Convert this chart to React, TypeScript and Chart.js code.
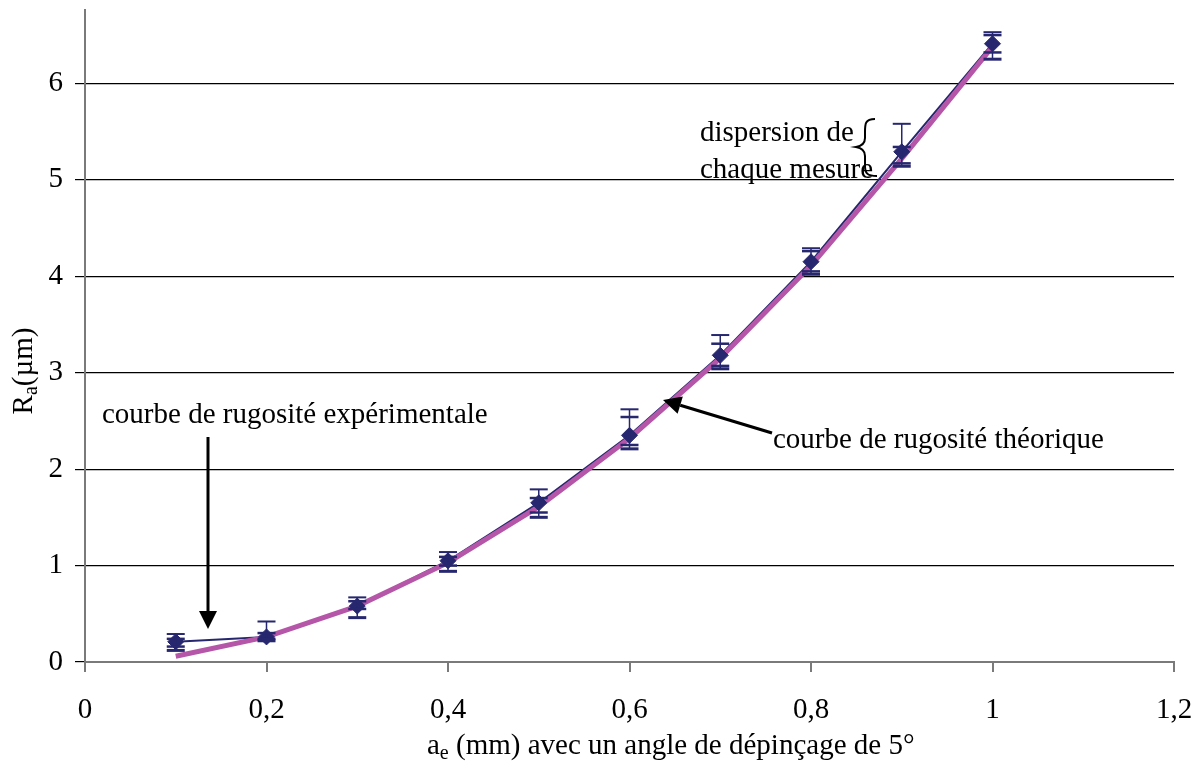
import React, { useEffect, useRef } from "react";
import { Chart, registerables } from "chart.js";

Chart.register(...registerables);

const xValues = [0.1, 0.2, 0.3, 0.4, 0.5, 0.6, 0.7, 0.8, 0.9, 1.0];
const experimental = [0.21, 0.26, 0.58, 1.05, 1.65, 2.35, 3.18, 4.15, 5.29, 6.41];
const theoretical = [0.06, 0.26, 0.58, 1.03, 1.61, 2.32, 3.15, 4.11, 5.22, 6.38];
const errHigh = [0.29, 0.42, 0.67, 1.14, 1.79, 2.62, 3.39, 4.29, 5.58, 6.53];
const errLow = [0.12, 0.22, 0.46, 0.94, 1.5, 2.21, 3.04, 4.02, 5.14, 6.25];
const innerHigh = [0.24, 0.3, 0.63, 1.09, 1.7, 2.54, 3.3, 4.26, 5.34, 6.5];
const innerLow = [0.16, 0.24, 0.55, 1.0, 1.55, 2.25, 3.07, 4.05, 5.17, 6.32];
const xTicks = [0, 0.2, 0.4, 0.6, 0.8, 1.0, 1.2];
const yTicks = [0, 1, 2, 3, 4, 5, 6];

const NAVY = "#27276f";
const PINK = "#b556a8";
const FONT = "'Liberation Serif', 'DejaVu Serif', serif";
const FS = 29;
const FSUB = 20;

function arrow(ctx: CanvasRenderingContext2D, x1: number, y1: number, x2: number, y2: number) {
  const ang = Math.atan2(y2 - y1, x2 - x1);
  const hl = 18;
  const hw = 9;
  const bx = x2 - hl * Math.cos(ang);
  const by = y2 - hl * Math.sin(ang);
  ctx.save();
  ctx.strokeStyle = "#000";
  ctx.fillStyle = "#000";
  ctx.lineWidth = 3;
  ctx.beginPath();
  ctx.moveTo(x1, y1);
  ctx.lineTo(bx, by);
  ctx.stroke();
  ctx.beginPath();
  ctx.moveTo(x2, y2);
  ctx.lineTo(bx + hw * Math.sin(ang), by - hw * Math.cos(ang));
  ctx.lineTo(bx - hw * Math.sin(ang), by + hw * Math.cos(ang));
  ctx.closePath();
  ctx.fill();
  ctx.restore();
}

const errorBarPlugin = {
  id: "errorBars",
  afterDatasetsDraw(chart: any) {
    const ctx = chart.ctx as CanvasRenderingContext2D;
    const xs = chart.scales.x;
    const ys = chart.scales.y;
    ctx.save();
    ctx.strokeStyle = NAVY;
    xValues.forEach((xv, i) => {
      const px = xs.getPixelForValue(xv);
      const hi = ys.getPixelForValue(errHigh[i]);
      const lo = ys.getPixelForValue(errLow[i]);
      ctx.lineWidth = 1.5;
      ctx.beginPath();
      ctx.moveTo(px, hi);
      ctx.lineTo(px, lo);
      ctx.stroke();
      const caps = [
        [errHigh[i], 2],
        [errLow[i], 3],
        [innerHigh[i], 2.5],
        [innerLow[i], 2.5],
      ];
      caps.forEach(([v, w]) => {
        const py = ys.getPixelForValue(v);
        ctx.lineWidth = w;
        ctx.beginPath();
        ctx.moveTo(px - 9, py);
        ctx.lineTo(px + 9, py);
        ctx.stroke();
      });
    });
    ctx.restore();
  },
};

const annotationPlugin = {
  id: "annotations",
  afterDraw(chart: any) {
    const ctx = chart.ctx as CanvasRenderingContext2D;
    ctx.save();
    ctx.fillStyle = "#000";
    ctx.textBaseline = "middle";
    ctx.font = `${FS}px ${FONT}`;
    ctx.textAlign = "left";
    ctx.fillText("courbe de rugosité expérimentale", 102, 415);
    ctx.fillText("courbe de rugosité théorique", 773, 440);
    ctx.fillText("dispersion de", 700, 133);
    ctx.fillText("chaque mesure", 700, 170);

    // brace
    ctx.strokeStyle = "#000";
    ctx.lineWidth = 2;
    ctx.beginPath();
    ctx.moveTo(875, 119);
    ctx.bezierCurveTo(865, 119, 865, 124, 865, 132);
    ctx.lineTo(865, 138);
    ctx.bezierCurveTo(865, 143, 862, 146, 856, 147);
    ctx.bezierCurveTo(862, 148, 865, 151, 865, 156);
    ctx.lineTo(865, 166);
    ctx.bezierCurveTo(865, 173, 867, 176, 877, 176);
    ctx.stroke();

    arrow(ctx, 208, 437, 208, 629);
    arrow(ctx, 772, 433, 663, 400);

    // x title with subscript
    const rest = " (mm) avec un angle de dépinçage de 5°";
    ctx.font = `${FS}px ${FONT}`;
    const wA = ctx.measureText("a").width;
    ctx.font = `${FSUB}px ${FONT}`;
    const wSub = ctx.measureText("e").width;
    let sx = 427;
    const ty = 746;
    ctx.font = `${FS}px ${FONT}`;
    ctx.fillText("a", sx, ty);
    sx += wA;
    ctx.font = `${FSUB}px ${FONT}`;
    ctx.fillText("e", sx, ty + 8);
    sx += wSub;
    ctx.font = `${FS}px ${FONT}`;
    ctx.fillText(rest, sx, ty);

    // y title rotated
    ctx.save();
    ctx.translate(24, 371);
    ctx.rotate(-Math.PI / 2);
    ctx.font = `${FS}px ${FONT}`;
    const wR = ctx.measureText("R").width;
    ctx.font = `${FSUB}px ${FONT}`;
    const wa = ctx.measureText("a").width;
    ctx.font = `${FS}px ${FONT}`;
    const wU = ctx.measureText("(µm)").width;
    let ux = -(wR + wa + wU) / 2;
    ctx.fillText("R", ux, 0);
    ux += wR;
    ctx.font = `${FSUB}px ${FONT}`;
    ctx.fillText("a", ux, 8);
    ux += wa;
    ctx.font = `${FS}px ${FONT}`;
    ctx.fillText("(µm)", ux, 0);
    ctx.restore();

    ctx.restore();
  },
};

export default function App() {
  const ref = useRef<HTMLCanvasElement | null>(null);
  useEffect(() => {
    document.body.style.margin = "0";
    const canvas = ref.current!;
    const zeroPad = (s: any) => {
      s.paddingLeft = 0;
      s.paddingRight = 0;
      s.paddingTop = 0;
      s.paddingBottom = 0;
    };
    const chart = new Chart(canvas, {
      type: "line",
      data: {
        datasets: [
          {
            label: "expérimentale (ligne)",
            data: xValues.map((x, i) => ({ x, y: experimental[i] })),
            borderColor: NAVY,
            borderWidth: 2,
            pointRadius: 0,
            tension: 0,
            order: 3,
          },
          {
            label: "théorique",
            data: xValues.map((x, i) => ({ x, y: theoretical[i] })),
            borderColor: PINK,
            borderWidth: 5,
            pointRadius: 0,
            tension: 0,
            order: 2,
          },
          {
            label: "expérimentale",
            data: xValues.map((x, i) => ({ x, y: experimental[i] })),
            showLine: false,
            pointStyle: "rectRot",
            pointRadius: 8,
            pointBackgroundColor: NAVY,
            pointBorderColor: NAVY,
            order: 1,
          },
        ],
      },
      options: {
        animation: false,
        responsive: false,
        devicePixelRatio: 1,
        layout: { padding: { left: 0, top: 10, right: 24, bottom: 0 } },
        plugins: { legend: { display: false }, tooltip: { enabled: false } },
        scales: {
          x: {
            type: "linear",
            min: 0,
            max: 1.2,
            afterBuildTicks: (s: any) => {
              s.ticks = xTicks.map((v) => ({ value: v }));
            },
            afterFit: (s: any) => {
              s.height = 107;
              zeroPad(s);
            },
            ticks: {
              color: "#000",
              font: { family: FONT, size: FS },
              padding: 21,
              maxRotation: 0,
              autoSkip: false,
              callback: (v: any) => String(Math.round(Number(v) * 10) / 10).replace(".", ","),
            },
            grid: { drawOnChartArea: false, drawTicks: true, tickLength: 10, color: "#7a7a7a", lineWidth: 2 },
            border: { color: "#7a7a7a", width: 2 },
          },
          y: {
            type: "linear",
            min: 0,
            max: 6.76,
            afterBuildTicks: (s: any) => {
              s.ticks = yTicks.map((v) => ({ value: v }));
            },
            afterFit: (s: any) => {
              s.width = 85;
              zeroPad(s);
            },
            ticks: {
              color: "#000",
              font: { family: FONT, size: FS },
              padding: 12,
              autoSkip: false,
              callback: (v: any) => String(v),
            },
            grid: { color: "#000", lineWidth: 1.2, tickLength: 10 },
            border: { color: "#7a7a7a", width: 2 },
          },
        },
      },
      plugins: [errorBarPlugin, annotationPlugin],
    });
    return () => chart.destroy();
  }, []);
  return <canvas ref={ref} width={1198} height={769} style={{ display: "block" }} />;
}
